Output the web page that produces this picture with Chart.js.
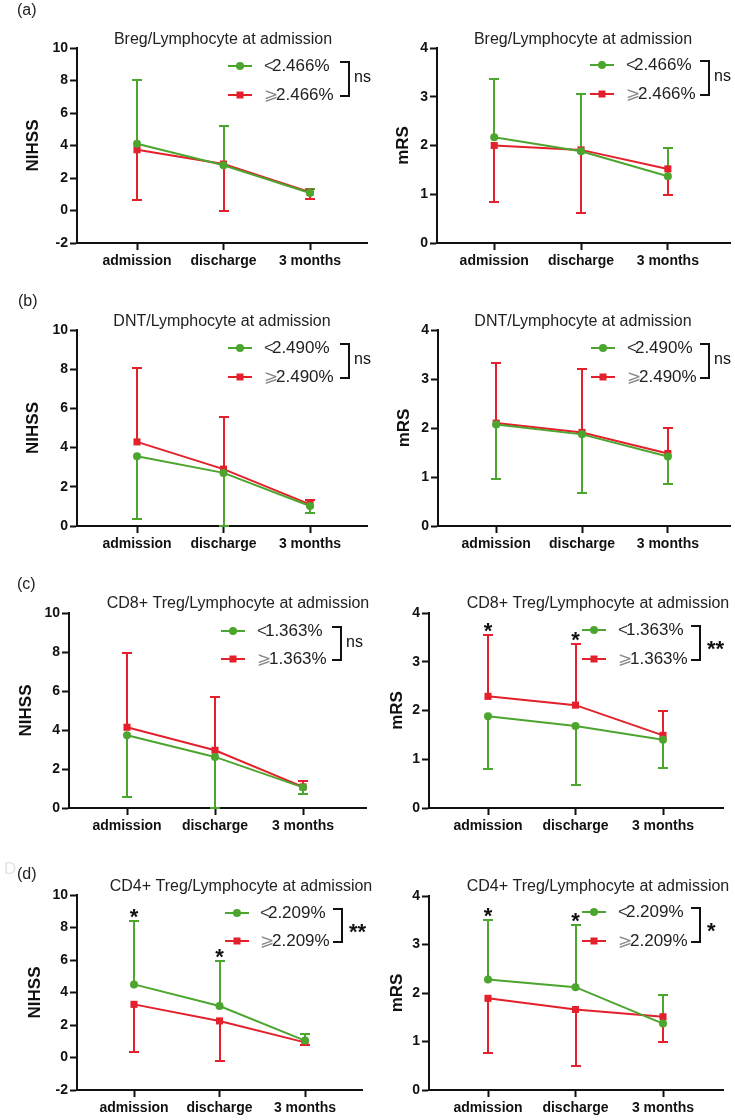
<!DOCTYPE html>
<html>
<head>
<meta charset="utf-8">
<title>NIHSS / mRS by lymphocyte subset</title>
<script src="https://cdn.jsdelivr.net/npm/chart.js@4.4.1/dist/chart.umd.min.js"></script>
<style>
  html, body { margin: 0; background: #fff; }
  body { position: relative; width: 735px; height: 1120px; overflow: hidden; }
  canvas { position: absolute; }
</style>
</head>
<body>
<script>
/* Eight panels: NIHSS (left) and mRS (right) over time, split at the cut-off of
   each lymphocyte subset. Bars are one-sided SD bars; *_END is the bar's far end. */

const CATS = ['admission', 'discharge', '3 months'];
const ROW_TAGS = ['(a)', '(b)', '(c)', '(d)'];
const TITLES = ['Breg/Lymphocyte at admission', 'DNT/Lymphocyte at admission',
  'CD8+ Treg/Lymphocyte at admission', 'CD4+ Treg/Lymphocyte at admission'];
const LOW_LABELS = ['<2.466%', '<2.490%', '<1.363%', '<2.209%'];
const HIGH_LABELS = ['⩾2.466%', '⩾2.490%', '⩾1.363%', '⩾2.209%'];

// rows a–d
const NIHSS_LOW = [[4.11, 2.78, 1.08], [3.56, 2.71, 1.02], [3.73, 2.62, 1.06], [4.50, 3.17, 1.04]];
const NIHSS_LOW_END = [[8.01, 5.22, 1.35], [0.36, 0.00, 0.68], [0.55, 0.00, 0.72], [8.42, 5.94, 1.43]];
const NIHSS_HIGH = [[3.74, 2.86, 1.12], [4.29, 2.90, 1.10], [4.14, 2.96, 1.08], [3.27, 2.25, 0.93]];
const NIHSS_HIGH_END = [[0.67, 0.00, 0.70], [8.04, 5.54, 1.35], [7.93, 5.69, 1.40], [0.32, -0.19, 0.77]];
const MRS_LOW = [[2.17, 1.88, 1.37], [2.07, 1.87, 1.42], [1.88, 1.68, 1.40], [2.28, 2.12, 1.37]];
const MRS_LOW_END = [[3.37, 3.06, 1.94], [0.95, 0.68, 0.85], [0.80, 0.48, 0.82], [3.50, 3.40, 1.96]];
const MRS_HIGH = [[2.00, 1.91, 1.52], [2.10, 1.91, 1.48], [2.29, 2.11, 1.49], [1.89, 1.66, 1.51]];
const MRS_HIGH_END = [[0.85, 0.61, 0.98], [3.32, 3.20, 2.01], [3.54, 3.36, 2.00], [0.77, 0.49, 0.99]];

const NIHSS_STARS = [['', '', ''], ['', '', ''], ['', '', ''], ['*', '*', '']];
const MRS_STARS = [['', '', ''], ['', '', ''], ['*', '*', ''], ['*', '*', '']];
const NIHSS_SIG = ['ns', 'ns', 'ns', '**'];
const MRS_SIG = ['ns', 'ns', '**', '*'];
const NIHSS_MIN = [-2, 0, 0, -2];

const GREEN = '#4ca52e', RED = '#e3202b', INK = '#111';
const FONT = '"Liberation Sans", Arial, Helvetica, sans-serif';
Chart.defaults.font.family = FONT;
Chart.defaults.color = INK;

// page geometry of each panel (axis line, top tick, category 0 / 2, legend, bracket).
// Left canvases are wider than their column so "ns" and long titles are not cut off.
const GEOM = [
  { row: 0, kind: 'nihss', ox: 0, oy: 0, w: 385, axisX: 77, top: 48, bottom: 243, right: 367, c0: 137, c2: 310,
    tx: 223, ty: 40, yt: 33, lx: 228, ltx: 264, ly: [66, 95], bx: 349, tag: [17, 11] },
  { row: 0, kind: 'mrs', ox: 367, oy: 0, w: 368, axisX: 437, top: 48, bottom: 243, right: 734, c0: 495, c2: 671,
    tx: 583, ty: 40, yt: 403, lx: 590, ltx: 626, ly: [65, 94], bx: 709 },
  { row: 1, kind: 'nihss', ox: 0, oy: 280, w: 385, axisX: 77, top: 330, bottom: 526, right: 367, c0: 137, c2: 310,
    tx: 222, ty: 322, yt: 33, lx: 228, ltx: 264, ly: [348, 377], bx: 349, tag: [18, 302] },
  { row: 1, kind: 'mrs', ox: 367, oy: 280, w: 368, axisX: 438, top: 330, bottom: 526, right: 734, c0: 497, c2: 671,
    tx: 583, ty: 322, yt: 404, lx: 591, ltx: 627, ly: [348, 377], bx: 709 },
  { row: 2, kind: 'nihss', ox: 0, oy: 560, w: 385, axisX: 69, top: 613, bottom: 808, right: 366, c0: 127, c2: 303,
    tx: 238, ty: 604, yt: 26, lx: 221, ltx: 257, ly: [631, 659], bx: 341, tag: [17, 585] },
  { row: 2, kind: 'mrs', ox: 367, oy: 560, w: 368, axisX: 429, top: 613, bottom: 808, right: 723, c0: 488, c2: 663,
    tx: 598, ty: 604, yt: 397, lx: 582, ltx: 618, ly: [630, 659], bx: 700 },
  { row: 3, kind: 'nihss', ox: 0, oy: 840, w: 385, axisX: 77, top: 895, bottom: 1090, right: 362, c0: 134, c2: 305,
    tx: 241, ty: 887, yt: 35, lx: 225, ltx: 260, ly: [913, 941], bx: 342, tag: [17, 875], ghost: true },
  { row: 3, kind: 'mrs', ox: 367, oy: 840, w: 368, axisX: 429, top: 896, bottom: 1090, right: 723, c0: 488, c2: 663,
    tx: 598, ty: 887, yt: 397, lx: 582, ltx: 618, ly: [912, 941], bx: 700 },
];

function drawMarker(ctx, style, x, y, color) {
  ctx.fillStyle = color;
  if (style === 'rect') { ctx.fillRect(x - 3.5, y - 3.5, 7, 7); return; }
  ctx.beginPath(); ctx.arc(x, y, 4, 0, Math.PI * 2); ctx.fill();
}

// error bars under the lines; title, legend, bracket and stars on top
const annot = {
  id: 'annot',
  beforeDatasetsDraw(chart, args, o) {
    const ctx = chart.ctx, xs = chart.scales.x, ys = chart.scales.y;
    ctx.save();
    ctx.lineWidth = 2;
    o.ends.forEach(function (ends, di) {
      ctx.strokeStyle = di === 0 ? GREEN : RED;
      const means = chart.data.datasets[di].data;
      ends.forEach(function (e, i) {
        const x = Math.round(xs.getPixelForValue(i));
        const y0 = ys.getPixelForValue(means[i].y), y1 = Math.round(ys.getPixelForValue(e));
        ctx.beginPath();
        ctx.moveTo(x, y0); ctx.lineTo(x, y1);
        ctx.moveTo(x - 5, y1); ctx.lineTo(x + 5, y1);
        ctx.stroke();
      });
    });
    ctx.restore();
  },
  afterDatasetsDraw(chart, args, o) {
    const ctx = chart.ctx, g = o.g, xs = chart.scales.x, ys = chart.scales.y;
    const px = function (v) { return v - g.ox; }, py = function (v) { return v - g.oy; };
    ctx.save();
    ctx.fillStyle = '#222';
    ctx.textBaseline = 'middle';
    // panel tag
    if (g.tag) {
      if (g.ghost) {
        ctx.fillStyle = '#e4e4e4'; ctx.font = '17px ' + FONT; ctx.textAlign = 'left';
        ctx.fillText('D', 4, py(g.tag[1] - 6));
        ctx.fillStyle = '#222';
      }
      ctx.font = '16px ' + FONT; ctx.textAlign = 'left';
      ctx.fillText(ROW_TAGS[g.row], g.tag[0], py(g.tag[1]));
    }
    // title
    ctx.font = '16px ' + FONT; ctx.textAlign = 'center';
    ctx.fillText(TITLES[g.row], px(g.tx), py(g.ty));
    // legend
    const items = [[LOW_LABELS[g.row], GREEN, 'circle'], [HIGH_LABELS[g.row], RED, 'rect']];
    items.forEach(function (it, k) {
      const y = py(g.ly[k]), x = px(g.lx);
      ctx.strokeStyle = it[1]; ctx.lineWidth = 2;
      ctx.beginPath(); ctx.moveTo(x, y); ctx.lineTo(x + 24, y); ctx.stroke();
      drawMarker(ctx, it[2], x + 12, y, it[1]);
      ctx.font = '17px ' + FONT; ctx.textAlign = 'left';
      const sym = it[0].charAt(0), num = it[0].slice(1);
      ctx.fillStyle = k === 0 ? '#333' : '#888';
      ctx.fillText(sym, px(g.ltx), y);
      const sw = ctx.measureText(sym).width;
      ctx.fillStyle = '#222';
      ctx.fillText(num, px(g.ltx) + sw - 2, y);
    });
    // bracket + group significance
    const bx = px(g.bx), b1 = py(g.ly[0]) - 4, b2 = py(g.ly[1]) + 1;
    ctx.strokeStyle = INK; ctx.lineWidth = 2;
    ctx.beginPath();
    ctx.moveTo(bx - 9, b1); ctx.lineTo(bx, b1); ctx.lineTo(bx, b2); ctx.lineTo(bx - 9, b2);
    ctx.stroke();
    ctx.fillStyle = INK; ctx.textAlign = 'left';
    if (o.sig === 'ns') {
      ctx.font = '16px ' + FONT;
      ctx.fillText('ns', bx + 5, (b1 + b2) / 2 - 1);
    } else {
      ctx.font = 'bold 22px ' + FONT; ctx.textBaseline = 'alphabetic';
      ctx.fillText(o.sig, bx + 7, (b1 + b2) / 2 + 13);
    }
    // point-wise stars above the taller bar
    ctx.font = 'bold 22px ' + FONT; ctx.textAlign = 'center'; ctx.textBaseline = 'alphabetic';
    o.stars.forEach(function (s, i) {
      if (!s) return;
      const top = Math.max(o.ends[0][i], o.ends[1][i], chart.data.datasets[0].data[i].y, chart.data.datasets[1].data[i].y);
      ctx.fillText(s, xs.getPixelForValue(i), ys.getPixelForValue(top) + 3);
    });
    ctx.restore();
  },
};

function makePanel(g) {
  const nihss = g.kind === 'nihss', r = g.row;
  const low = (nihss ? NIHSS_LOW : MRS_LOW)[r], high = (nihss ? NIHSS_HIGH : MRS_HIGH)[r];
  const lowEnd = (nihss ? NIHSS_LOW_END : MRS_LOW_END)[r], highEnd = (nihss ? NIHSS_HIGH_END : MRS_HIGH_END)[r];
  const cv = document.createElement('canvas');
  cv.width = g.w; cv.height = 280;
  cv.style.left = g.ox + 'px'; cv.style.top = g.oy + 'px';
  cv.style.width = g.w + 'px'; cv.style.height = '280px';
  document.body.appendChild(cv);

  // category pixels → linear x range, so the axis runs past both end categories
  const step = (g.c2 - g.c0) / 2;
  const xmin = -(g.c0 - g.axisX) / step, xmax = 2 + (g.right - g.c2) / step;
  const pts = function (arr) { return arr.map(function (v, i) { return { x: i, y: v }; }); };

  return new Chart(cv.getContext('2d'), {
    type: 'line',
    data: { datasets: [
      { label: LOW_LABELS[r], data: pts(low), borderColor: GREEN, backgroundColor: GREEN, borderWidth: 2,
        pointStyle: 'circle', pointRadius: 4, pointBorderWidth: 0, tension: 0 },
      { label: HIGH_LABELS[r], data: pts(high), borderColor: RED, backgroundColor: RED, borderWidth: 2,
        pointStyle: 'rect', pointRadius: 5, pointBorderWidth: 0, tension: 0 }] },
    options: {
      responsive: false, animation: false, events: [],
      layout: { padding: { left: 0, top: g.top - g.oy, right: g.ox + g.w - g.right, bottom: g.oy + 280 - g.bottom - 30 } },
      plugins: {
        legend: { display: false }, tooltip: { enabled: false },
        annot: { g: g, ends: [lowEnd, highEnd], sig: (nihss ? NIHSS_SIG : MRS_SIG)[r], stars: (nihss ? NIHSS_STARS : MRS_STARS)[r] },
      },
      scales: {
        x: {
          type: 'linear', min: xmin, max: xmax,
          afterBuildTicks: function (sc) { sc.ticks = [0, 1, 2].map(function (v) { return { value: v }; }); },
          afterFit: function (sc) { sc.height = 30; },
          ticks: { callback: function (v) { return CATS[v]; }, font: { size: 14, weight: 'bold' }, color: INK, padding: 3, maxRotation: 0, autoSkip: false },
          grid: { drawOnChartArea: false, drawTicks: true, tickLength: 7, tickColor: INK, tickWidth: 2 },
          border: { color: INK, width: 2 },
        },
        y: {
          min: nihss ? NIHSS_MIN[r] : 0, max: nihss ? 10 : 4,
          afterFit: function (sc) { sc.width = g.axisX - g.ox; },
          ticks: { stepSize: nihss ? 2 : 1, font: { size: 14, weight: 'bold' }, color: INK, padding: 2 },
          grid: { drawOnChartArea: false, drawTicks: true, tickLength: 7, tickColor: INK, tickWidth: 2 },
          border: { color: INK, width: 2 },
          title: { display: true, text: nihss ? 'NIHSS' : 'mRS', color: INK, font: { size: 17, weight: 'bold' },
            padding: { top: g.yt - g.ox - 10.2, bottom: 0 } },
        },
      },
    },
    plugins: [annot],
  });
}

GEOM.forEach(makePanel);
</script>
</body>
</html>
